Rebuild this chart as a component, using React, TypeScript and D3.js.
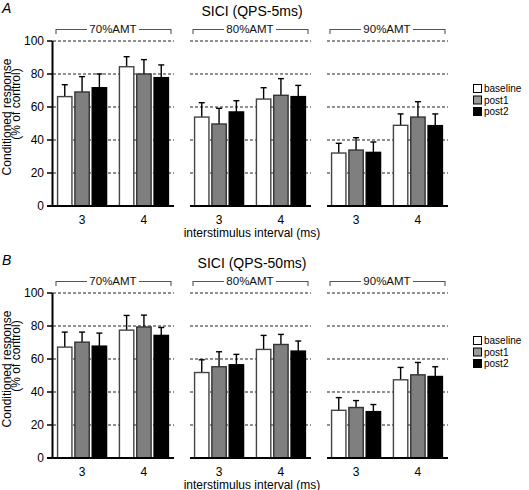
import React from "react";
import * as d3 from "d3";

const groups = ["70%AMT", "80%AMT", "90%AMT"];
const isis = ["3", "4"];
const seriesNames = ["baseline", "post1", "post2"];
const yTicks = [0, 20, 40, 60, 80, 100];

// values ordered: 70%-3, 70%-4, 80%-3, 80%-4, 90%-3, 90%-4
const aBaseline = [66.3, 84.4, 53.9, 64.8, 32.1, 48.9];
const aBaselineErr = [7.2, 6.1, 8.7, 6.9, 5.9, 6.9];
const aPost1 = [69.1, 80.0, 49.7, 67.1, 33.9, 53.9];
const aPost1Err = [9.3, 8.7, 9.5, 10.1, 7.5, 9.3];
const aPost2 = [71.7, 77.8, 57.0, 66.3, 32.5, 48.7];
const aPost2Err = [8.3, 7.7, 6.8, 6.8, 6.3, 7.1];

const bBaseline = [67.2, 77.5, 51.8, 65.8, 28.9, 47.4];
const bBaselineErr = [9.1, 8.9, 7.7, 8.5, 7.7, 7.5];
const bPost1 = [70.2, 79.4, 55.3, 68.8, 30.6, 50.4];
const bPost1Err = [6.1, 7.2, 9.1, 6.1, 4.2, 7.5];
const bPost2 = [67.8, 74.3, 56.5, 64.8, 28.1, 49.4];
const bPost2Err = [7.9, 4.8, 6.3, 6.1, 4.3, 5.9];

const panels = [
  {
    letter: "A",
    title: "SICI (QPS-5ms)",
    values: [aBaseline, aPost1, aPost2],
    errors: [aBaselineErr, aPost1Err, aPost2Err],
  },
  {
    letter: "B",
    title: "SICI (QPS-50ms)",
    values: [bBaseline, bPost1, bPost2],
    errors: [bBaselineErr, bPost1Err, bPost2Err],
  },
];

const FONT = "'Liberation Sans', Arial, Helvetica, sans-serif";
const fills = ["#ffffff", "#7f7f7f", "#000000"];
const strokes = ["#444444", "#333333", "#000000"];
const legendFills = ["#ffffff", "#9a9a9a", "#000000"];

const xGroup = d3.scaleBand<string>().domain(groups).range([53, 447]).paddingInner(0.124).paddingOuter(0);
const xIsi = d3.scalePoint<string>().domain(isis).range([0, xGroup.bandwidth()]).padding(0.47);
const xSeries = d3.scaleBand<string>().domain(seriesNames).range([-24.5, 24.5]).paddingInner(0.17);

function Panel({ p, dy }: { p: typeof panels[number]; dy: number }) {
  const y = d3.scaleLinear().domain([0, 100]).range([206, 41]);
  const gw = xGroup.bandwidth();
  return (
    <g transform={`translate(0,${dy})`} fontFamily={FONT}>
      <text x={2} y={13} fontSize={14} fontStyle="italic">{p.letter}</text>
      <text x={252} y={16} fontSize={14} textAnchor="middle">{p.title}</text>
      {/* brackets */}
      {groups.map((g) => {
        const gx = xGroup(g)!;
        const cx = gx + gw / 2;
        const x0 = gx + 3;
        const x1 = gx + gw - 2;
        const half = 26;
        return (
          <g key={g}>
            <path d={`M${x0},34V29.5H${cx - half}M${cx + half},29.5H${x1}V34`} fill="none" stroke="#555" strokeWidth={1.1} />
            <text x={cx} y={29} fontSize={11.5} textAnchor="middle" dominantBaseline="central" fill="#111">{g}</text>
          </g>
        );
      })}
      {/* gridlines */}
      {groups.map((g) => {
        const gx = xGroup(g)!;
        return yTicks.filter((t) => t > 0).map((t) => (
          <line key={g + t} x1={gx} x2={gx + gw + 1} y1={y(t)} y2={y(t)} stroke="#222" strokeWidth={1.1} strokeDasharray="3,2" />
        ));
      })}
      {/* bars */}
      {groups.map((g, gi) =>
        isis.map((isi, ii) => {
          const cx = xGroup(g)! + xIsi(isi)!;
          const idx = gi * 2 + ii;
          return seriesNames.map((s, si) => {
            const v = p.values[si][idx];
            const e = p.errors[si][idx];
            const bx = cx + xSeries(s)!;
            const bw = xSeries.bandwidth();
            const mx = bx + bw / 2;
            return (
              <g key={g + isi + s}>
                <line x1={mx} x2={mx} y1={y(v)} y2={y(v + e)} stroke="#000" strokeWidth={1.4} />
                <line x1={mx - 3} x2={mx + 3} y1={y(v + e)} y2={y(v + e)} stroke="#000" strokeWidth={1.4} />
                <rect x={bx} y={y(v)} width={bw} height={y(0) - y(v)} fill={fills[si]} stroke={strokes[si]} strokeWidth={1.4} />
              </g>
            );
          });
        })
      )}
      {/* baselines */}
      {groups.map((g, gi) => {
        const gx = xGroup(g)!;
        return <line key={g} x1={gi === 0 ? 47 : gx} x2={gx + gw + 1} y1={y(0)} y2={y(0)} stroke="#000" strokeWidth={2} />;
      })}
      {/* y axis */}
      <line x1={52.5} x2={52.5} y1={y(100)} y2={y(0)} stroke="#000" strokeWidth={2} />
      {yTicks.map((t) => (
        <g key={t}>
          <line x1={47} x2={52.5} y1={y(t)} y2={y(t)} stroke="#000" strokeWidth={1.5} />
          <text x={44} y={y(t)} fontSize={12} textAnchor="end" dominantBaseline="central">{t}</text>
        </g>
      ))}
      <text transform="translate(11,117) rotate(-90)" fontSize={12} textAnchor="middle">Conditioned response</text>
      <text transform="translate(20,104) rotate(-90)" fontSize={12} textAnchor="middle">(% of control)</text>
      {/* x tick labels */}
      {groups.map((g) =>
        isis.map((isi) => (
          <text key={g + isi} x={xGroup(g)! + xIsi(isi)!} y={224} fontSize={12} textAnchor="middle">{isi}</text>
        ))
      )}
      <text x={252} y={236.5} fontSize={12} textAnchor="middle">interstimulus interval (ms)</text>
      {/* legend */}
      {seriesNames.map((s, si) => (
        <g key={s}>
          <rect x={473.5} y={84.5 + si * 11.5} width={8} height={8} fill={legendFills[si]} stroke="#000" strokeWidth={1} />
          <text x={484} y={88.5 + si * 11.5} fontSize={10} dominantBaseline="central">{s}</text>
        </g>
      ))}
    </g>
  );
}

export default function App() {
  return (
    <svg width={529} height={490} style={{ position: "absolute", left: 0, top: 0, background: "#fff" }}>
      <rect width={529} height={490} fill="#fff" />
      <Panel p={panels[0]} dy={0} />
      <Panel p={panels[1]} dy={252} />
    </svg>
  );
}
